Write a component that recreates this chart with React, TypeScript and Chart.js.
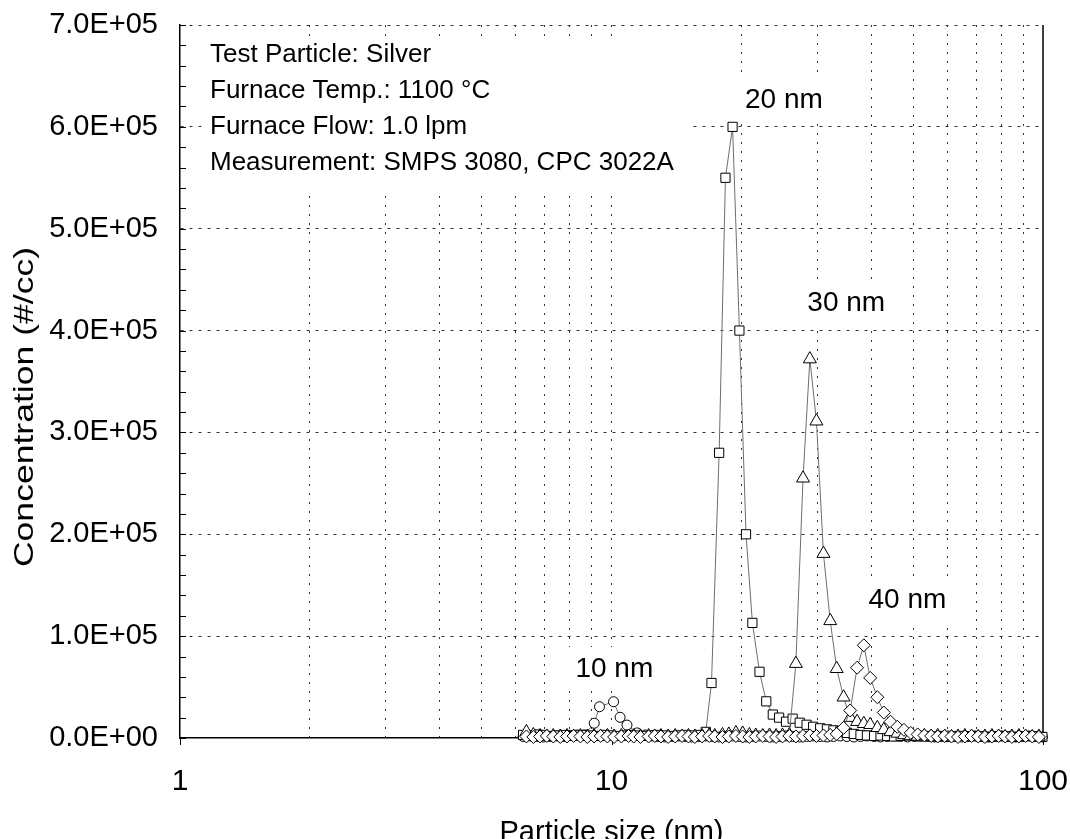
import React, { useEffect, useRef } from 'react';
import { Chart, registerables } from 'chart.js';

Chart.register(...registerables);

// Particle size bins (nm) – square (20 nm) series
const sizesA = [6.24, 6.48, 6.71, 6.95, 7.21, 7.48, 7.75, 8.03, 8.32, 8.64,
  8.95, 9.28, 9.61, 9.97, 10.35, 10.76, 11.06, 11.47, 11.98, 12.38,
  12.79, 13.30, 13.80, 14.31, 14.82, 15.33, 15.94, 16.54, 17.05, 17.76,
  18.37, 19.08, 19.79, 20.50, 21.21, 22.03, 22.84, 23.65, 24.46, 25.38,
  26.29, 27.30, 28.32, 29.33, 30.45, 31.57, 32.68, 33.90, 35.12, 36.44,
  37.76, 39.08, 40.60, 42.02, 43.54, 45.17, 46.79, 48.52, 50.34, 52.17,
  54.10, 56.03, 58.16, 60.29, 62.42, 64.76, 67.09, 69.53, 72.07, 74.81,
  77.55, 80.29, 83.23, 86.38, 89.52, 92.77, 96.12, 99.67];

// Particle size bins (nm) – triangle (30 nm) and diamond (40 nm) series
const sizesB = [6.35, 6.59, 6.83, 7.08, 7.33, 7.61, 7.89, 8.17, 8.47, 8.79,
  9.11, 9.44, 9.78, 10.14, 10.54, 10.95, 11.26, 11.67, 12.19, 12.60,
  13.02, 13.53, 14.05, 14.57, 15.08, 15.60, 16.22, 16.84, 17.35, 18.08,
  18.70, 19.42, 20.14, 20.87, 21.59, 22.42, 23.24, 24.07, 24.90, 25.83,
  26.75, 27.79, 28.82, 29.85, 30.99, 32.13, 33.26, 34.50, 35.74, 37.08,
  38.43, 39.77, 41.32, 42.77, 44.32, 45.97, 47.62, 49.38, 51.24, 53.10,
  55.06, 57.02, 59.19, 61.36, 63.53, 65.91, 68.28, 70.76, 73.34, 76.13,
  78.92, 81.71, 84.71, 87.91, 91.11, 94.42, 97.83];

// Particle size bins (nm) – circle (10 nm) series
const sizesC = [6.24, 6.48, 6.71, 6.95, 7.21, 7.48, 7.75, 8.03, 8.32, 8.64,
  9.12, 9.38, 10.11, 10.47, 10.86,
  11.47, 11.98, 12.38, 12.79, 13.30, 13.80, 14.31, 14.82, 15.33, 15.94,
  16.54, 17.05, 17.76, 18.37, 19.08, 19.79, 20.50, 21.21, 22.03, 22.84,
  23.65, 24.46, 25.38, 26.29, 27.30, 28.32, 29.33, 30.45, 31.57, 32.68,
  33.90, 35.12, 36.44, 37.76, 39.08, 40.60, 42.02, 43.54, 45.17, 46.79,
  48.52, 50.34, 52.17, 54.10, 56.03, 58.16, 60.29, 62.42, 64.76, 67.09,
  69.53, 72.07, 74.81, 77.55, 80.29, 83.23, 86.38, 89.52, 92.77, 96.12,
  99.67];

// Concentrations (#/cc)
const conc10 = [1500, 2000, 1500, 1000, 1500, 2000, 1500, 2500, 3000, 3000,
  14500, 30700, 35600, 20300, 12700,
  5000, 3000, 2000, 1500, 1000, 1500, 2000, 1500, 1000, 1500,
  2000, 1500, 1000, 1500, 2000, 1500, 1000, 1500, 2000, 1500,
  1000, 1500, 2000, 1500, 1000, 1500, 2000, 1500, 1000, 1500,
  2000, 1500, 1000, 1500, 2000, 1500, 1000, 1500, 2000, 1500,
  1000, 1500, 2000, 1500, 1000, 1500, 2000, 1500, 1000, 1500,
  2000, 1500, 1000, 1500, 2000, 1500, 1000, 1500, 2000, 1500,
  1000];

const conc20 = [3000, 2500, 3500, 3000, 2000, 2500, 3000, 2000, 2500, 3000,
  2500, 2000, 3000, 2500, 2000, 2500, 3000, 2500, 2000, 2500,
  3000, 2500, 2000, 2500, 3000, 2500, 3000, 6000, 54000, 280000,
  550000, 600000, 400000, 200000, 113000, 65000, 36000, 23000, 20000, 16000,
  19000, 15000, 13000, 11000, 9500, 8500, 7500, 6500, 5000, 4000,
  3000, 2500, 2000, 2500, 2000, 1500, 2000, 2500, 2000, 1500,
  2000, 1500, 2000, 1000, 1500, 2000, 1500, 2000, 1500, 1000,
  1500, 2000, 1500, 1000, 1500, 2000, 1500, 1000];

const conc30 = [6000, 3000, 2000, 1500, 2000, 1500, 2000, 1500, 2000, 1500,
  2000, 1500, 2000, 1500, 2000, 1500, 2000, 1500, 2000, 1500,
  2000, 1500, 2000, 1500, 2000, 1500, 2000, 2500, 2000, 3000,
  3500, 5000, 4500, 3000, 2500, 2000, 2500, 2000, 2500, 3000,
  73000, 255000, 372000, 311000, 181000, 115000, 68000, 40000, 20000, 16000,
  14000, 13000, 10000, 8000, 6000, 4500, 3000, 2000, 1500, 2000,
  1500, 2000, 1500, 1000, 1500, 2000, 1500, 1000, 1500, 2000,
  1500, 1000, 1500, 2000, 1500, 1000, 1500];

const conc40 = [1500, 1000, 1500, 2000, 1500, 1000, 1500, 2000, 1500, 1000,
  1500, 2000, 1500, 1000, 1500, 2000, 1500, 1000, 1500, 2000,
  1500, 1000, 1500, 2000, 1500, 1000, 1500, 2000, 1500, 1000,
  1500, 2000, 1500, 1000, 1500, 2000, 1500, 1000, 1500, 2000,
  1500, 2000, 2500, 2000, 2500, 3000, 4000, 10000, 27000, 69000,
  91000, 59000, 40000, 25000, 16000, 11000, 8000, 5000, 3500, 2500,
  2000, 1500, 2000, 1500, 1000, 1500, 2000, 1500, 1000, 1500,
  2000, 1500, 1000, 1500, 2000, 1500, 1000];

const yTickValues = [0, 100000, 200000, 300000, 400000, 500000, 600000, 700000];
const xGridValues = [1, 2, 3, 4, 5, 6, 7, 8, 9, 10, 20, 30, 40, 50, 60, 70, 80, 90, 100];
const xLabelValues = [1, 10, 100];

const infoLines = [
  'Test Particle: Silver',
  'Furnace Temp.: 1100 °C',
  'Furnace Flow: 1.0 lpm',
  'Measurement: SMPS 3080, CPC 3022A',
];
const peakLabelText = ['10 nm', '20 nm', '30 nm', '40 nm'];
const peakLabelX = [10.15, 25.1, 35.0, 48.5];
const peakLabelY = [67700, 626000, 427000, 135500];

const xTitle = 'Particle size (nm)';
const yTitle = 'Concentration (#/cc)';

const FONT = "'Liberation Sans', Arial, Helvetica, sans-serif";
const W = 1070;
const H = 860;

function toPoints(xs: number[], ys: number[]) {
  return xs.map((x, i) => ({ x, y: ys[i] }));
}

function fmtSci(v: number) {
  if (v === 0) return '0.0E+00';
  return (v / 100000).toFixed(1) + 'E+05';
}

const decorPlugin = {
  id: 'decor',
  beforeDatasetsDraw(chart: any) {
    const { ctx, chartArea, scales } = chart;
    const xs = scales.x;
    const ys = scales.y;
    ctx.save();
    // info text box
    ctx.fillStyle = '#fff';
    ctx.fillRect(203, 37, 485, 154);
    ctx.fillStyle = '#000';
    ctx.font = `26px ${FONT}`;
    ctx.textAlign = 'left';
    ctx.textBaseline = 'middle';
    const lineYs = [55, 91, 127, 163];
    infoLines.forEach((t, i) => ctx.fillText(t, 210, lineYs[i]));
    // peak labels with white boxes
    ctx.font = `28px ${FONT}`;
    ctx.textAlign = 'center';
    peakLabelText.forEach((t, i) => {
      const px = xs.getPixelForValue(peakLabelX[i]);
      const py = ys.getPixelForValue(peakLabelY[i]);
      const w = ctx.measureText(t).width;
      ctx.fillStyle = '#fff';
      ctx.fillRect(px - w / 2 - 8, py - 22, w + 16, 44);
      ctx.fillStyle = '#000';
      ctx.fillText(t, px, py);
    });
    // right frame line
    ctx.strokeStyle = '#000';
    ctx.lineWidth = 1.5;
    ctx.beginPath();
    ctx.moveTo(chartArea.right, chartArea.top);
    ctx.lineTo(chartArea.right, chartArea.bottom);
    ctx.stroke();
    // inward minor ticks on y axis
    ctx.lineWidth = 1;
    for (let v = 0; v <= 700000; v += 20000) {
      const py = Math.round(ys.getPixelForValue(v)) + 0.5;
      ctx.beginPath();
      ctx.moveTo(chartArea.left, py);
      ctx.lineTo(chartArea.left + 6, py);
      ctx.stroke();
    }
    // outward major ticks on x axis
    xLabelValues.forEach((v) => {
      const px = Math.round(xs.getPixelForValue(v)) + 0.5;
      ctx.beginPath();
      ctx.moveTo(px, chartArea.bottom);
      ctx.lineTo(px, chartArea.bottom + 7);
      ctx.stroke();
    });
    ctx.restore();
  },
  afterDraw(chart: any) {
    const { ctx, chartArea } = chart;
    ctx.save();
    ctx.fillStyle = '#000';
    ctx.font = `29px ${FONT}`;
    ctx.textAlign = 'center';
    ctx.textBaseline = 'alphabetic';
    ctx.fillText(xTitle, (chartArea.left + chartArea.right) / 2, 841);
    ctx.translate(25, 407);
    ctx.rotate(-Math.PI / 2);
    ctx.scale(1.27, 1);
    ctx.font = `28px ${FONT}`;
    ctx.textBaseline = 'middle';
    ctx.fillText(yTitle, 0, 0);
    ctx.restore();
  },
};

function makeDataset(label: string, xs: number[], ys: number[], style: string, radius: number, order: number) {
  return {
    label,
    data: toPoints(xs, ys),
    borderColor: '#6e6e6e',
    borderWidth: 1,
    pointStyle: style,
    pointRadius: radius,
    pointBackgroundColor: '#ffffff',
    pointBorderColor: '#000000',
    pointBorderWidth: 1,
    showLine: true,
    tension: 0,
    clip: false,
    order,
  };
}

export default function App() {
  const ref = useRef<HTMLCanvasElement | null>(null);
  useEffect(() => {
    if (!ref.current) return;
    const chart = new Chart(ref.current, {
      type: 'scatter',
      data: {
        datasets: [
          makeDataset('10 nm', sizesC, conc10, 'circle', 5, 3),
          makeDataset('20 nm', sizesA, conc20, 'rect', 6.5, 2),
          makeDataset('30 nm', sizesB, conc30, 'triangle', 7.5, 1),
          makeDataset('40 nm', sizesB, conc40, 'rectRot', 6.5, 0),
        ] as any,
      },
      options: {
        responsive: false,
        devicePixelRatio: 1,
        animation: false,
        layout: { padding: { left: 0, top: 25, right: 27, bottom: 0 } },
        plugins: { legend: { display: false }, tooltip: { enabled: false } },
        scales: {
          x: {
            type: 'logarithmic',
            min: 1,
            max: 100,
            afterBuildTicks: (scale: any) => {
              scale.ticks = xGridValues.map((v) => ({ value: v, major: xLabelValues.includes(v) }));
            },
            afterFit: (scale: any) => { scale.height = H - 738; },
            ticks: {
              autoSkip: false,
              maxRotation: 0,
              padding: 0,
              color: '#000',
              font: { family: FONT, size: 30 },
              callback: (v: any) => (xLabelValues.includes(Number(v)) ? String(v) : ''),
            },
            grid: {
              color: (c: any) => (c.tick && (c.tick.value === 1 || c.tick.value === 100) ? 'rgba(0,0,0,0)' : '#333'),
              lineWidth: 1,
              drawTicks: true,
              tickLength: 26,
              tickColor: 'rgba(0,0,0,0)',
            },
            border: { display: true, color: '#000', width: 1.5, dash: [2, 7] },
          },
          y: {
            min: 0,
            max: 700000,
            afterBuildTicks: (scale: any) => {
              scale.ticks = yTickValues.map((v) => ({ value: v }));
            },
            afterFit: (scale: any) => { scale.width = 180; },
            ticks: {
              padding: 0,
              color: '#000',
              font: { family: FONT, size: 29 },
              callback: (v: any) => fmtSci(Number(v)),
            },
            grid: {
              color: (c: any) => (c.tick && c.tick.value === 0 ? 'rgba(0,0,0,0)' : '#333'),
              lineWidth: 1,
              drawTicks: true,
              tickLength: 22,
              tickColor: 'rgba(0,0,0,0)',
            },
            border: { display: true, color: '#000', width: 1.5, dash: [3, 6] },
          },
        },
      },
      plugins: [decorPlugin],
    } as any);
    return () => chart.destroy();
  }, []);
  return (
    <div style={{ position: 'absolute', left: 0, top: 0, width: W, height: H, background: '#fff' }}>
      <canvas ref={ref} width={W} height={H} style={{ width: W, height: H, display: 'block' }} />
    </div>
  );
}
